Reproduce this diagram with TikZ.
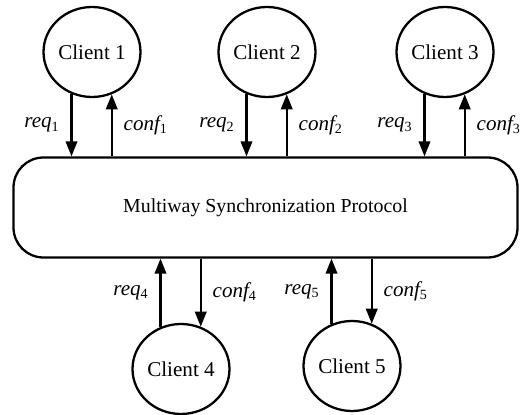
\documentclass[tikz,border=0pt]{standalone}
\usepackage{fontspec}
\setmainfont{Liberation Serif}
\usetikzlibrary{arrows.meta,shapes.geometric}

\begin{document}
\begin{tikzpicture}[
    x=0.2mm, y=-0.2mm,
    cliente/.style={draw, ellipse, line width=1.3pt, minimum width=19.4mm,
        minimum height=18mm, inner sep=0pt, font=\large},
    protocolo/.style={draw, rounded corners=6mm, line width=1.3pt,
        minimum width=100.8mm, minimum height=20mm, font=\fontsize{11.3}{13}\selectfont},
    fluxo/.style={-{Triangle[length=3mm, width=2.3mm]}, line width=1.2pt},
    rotulo/.style={font=\large\itshape}
]
    \useasboundingbox (0,0) rectangle (527,415);
    \node[cliente] (c1) at (92,52) {Client 1};
    \node[cliente] (c2) at (267,52) {Client 2};
    \node[cliente] (c3) at (445,52) {Client 3};
    \node[protocolo] (proto) at (265.5,207.5) {Multiway Synchronization Protocol};
    \node[cliente] (c4) at (181,369) {Client 4};
    \node[cliente] (c5) at (352,366) {Client 5};

    % clientes de cima
    \draw[fluxo] (c1.244) -- node[rotulo, left=1mm] {req\textsubscript{\upshape 1}} (c1.244 |- proto.north);
    \draw[fluxo] (c1.295 |- proto.north) -- node[rotulo, right=1mm] {conf\textsubscript{\upshape 1}} (c1.295);
    \draw[fluxo] (c2.244) -- node[rotulo, left=1mm] {req\textsubscript{\upshape 2}} (c2.244 |- proto.north);
    \draw[fluxo] (c2.295 |- proto.north) -- node[rotulo, right=1mm] {conf\textsubscript{\upshape 2}} (c2.295);
    \draw[fluxo] (c3.244) -- node[rotulo, left=1mm] {req\textsubscript{\upshape 3}} (c3.244 |- proto.north);
    \draw[fluxo] (c3.295 |- proto.north) -- node[rotulo, right=1mm] {conf\textsubscript{\upshape 3}} (c3.295);

    % clientes de baixo
    \draw[fluxo] (c4.116) -- node[rotulo, left=1mm] {req\textsubscript{\upshape 4}} (c4.116 |- proto.south);
    \draw[fluxo] (c4.65 |- proto.south) -- node[rotulo, right=1mm] {conf\textsubscript{\upshape 4}} (c4.65);
    \draw[fluxo] (c5.116) -- node[rotulo, left=1mm] {req\textsubscript{\upshape 5}} (c5.116 |- proto.south);
    \draw[fluxo] (c5.65 |- proto.south) -- node[rotulo, right=1mm] {conf\textsubscript{\upshape 5}} (c5.65);
\end{tikzpicture}
\end{document}
